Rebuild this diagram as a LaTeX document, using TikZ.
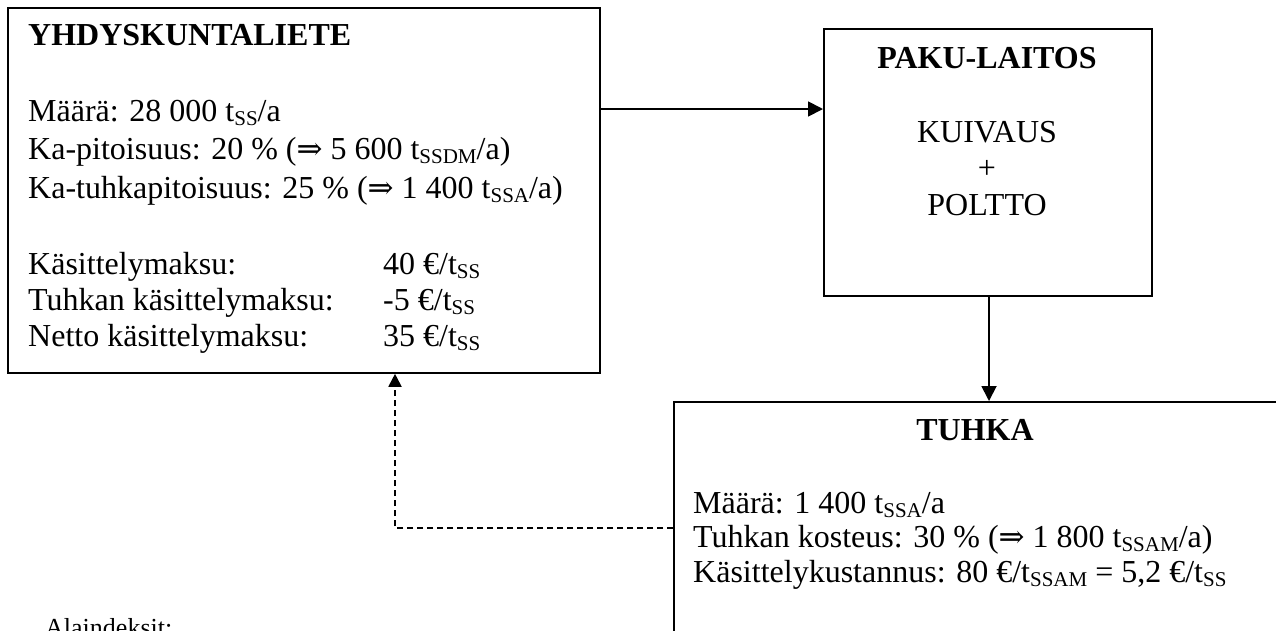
\documentclass[tikz,border=0pt]{standalone}
\usepackage{fontspec}
\setmainfont{Liberation Serif}
\newfontfamily\arrowfont{DejaVu Serif}
\usetikzlibrary{arrows.meta}
\newcommand\sbs[1]{\raisebox{-4pt}{\fontsize{21}{21}\selectfont #1}}
\newcommand\impl{{\arrowfont\fontsize{31}{31}\selectfont ⇒}}
\begin{document}
\begin{tikzpicture}[x=1pt,y=-1pt,
  box/.style={draw, line width=1.8pt, inner sep=0pt, anchor=north west},
  txt/.style={anchor=base west, inner sep=0pt, font=\fontsize{32}{37}\selectfont},
  ctxt/.style={anchor=base, inner sep=0pt, font=\fontsize{32}{37}\selectfont},
  ttl/.style={inner sep=0pt, font=\bfseries\fontsize{32}{37}\selectfont},
  arr/.style={line width=1.8pt, -{Triangle[length=15pt,width=15pt]}},
  darr/.style={line width=1.8pt, -{Triangle[length=13pt,width=13pt]}, dash pattern=on 6pt off 4pt}]
\useasboundingbox (0,0) rectangle (1276,630);
\clip (0,0) rectangle (1276,630);
% boxes
\node[box, minimum width=592pt, minimum height=365pt] (liete) at (7,7) {};
\node[box, minimum width=328pt, minimum height=267pt] (paku) at (823,28) {};
\node[box, minimum width=610pt, minimum height=400pt] (tuhka) at (673,401) {};
% box 1 texts
\node[ttl, anchor=base west] (t1) at (28,45) {YHDYSKUNTALIETE};
\node[txt] (l1) at (28,121) {Määrä: 28 000 t\sbs{SS}/a};
\node[txt] (l2) at (28,159) {Ka-pitoisuus: 20 \% (\impl{} 5 600 t\sbs{SSDM}/a)};
\node[txt] (l3) at (28,198) {Ka-tuhkapitoisuus: 25 \% (\impl{} 1 400 t\sbs{SSA}/a)};
\node[txt] (l4) at (28,274) {Käsittelymaksu:};
\node[txt] (l5) at (28,310) {Tuhkan käsittelymaksu:};
\node[txt] (l6) at (28,346) {Netto käsittelymaksu:};
\node[txt] (v4) at (383,274) {40 €/t\sbs{SS}};
\node[txt] (v5) at (383,310) {-5 €/t\sbs{SS}};
\node[txt] (v6) at (383,346) {35 €/t\sbs{SS}};
% box 2 texts
\node[ttl, anchor=base] (t2) at (987,68) {PAKU-LAITOS};
\node[ctxt] (p1) at (987,142) {KUIVAUS};
\node[ctxt] (p2) at (987,178.5) {+};
\node[ctxt] (p3) at (987,215) {POLTTO};
% box 3 texts
\node[ttl, anchor=base] (t3) at (975,440) {TUHKA};
\node[txt] (m1) at (693,513) {Määrä: 1 400 t\sbs{SSA}/a};
\node[txt] (m2) at (693,547.5) {Tuhkan kosteus: 30 \% (\impl{} 1 800 t\sbs{SSAM}/a)};
\node[txt] (m3) at (693,582) {Käsittelykustannus: 80 €/t\sbs{SSAM} = 5,2 €/t\sbs{SS}};
% footer
\node[anchor=base west, inner sep=0pt, font=\fontsize{26}{30}\selectfont] (ala) at (45,636) {Alaindeksit:};
% connectors
\draw[arr] (liete.east |- 0,109) -- (paku.west |- 0,109);
\draw[arr] (paku.south -| 989,0) -- (tuhka.north -| 989,0);
\coordinate (corner) at (395,528);
\draw[darr] (tuhka.west |- corner) -- (corner) -- (liete.south -| corner);
\end{tikzpicture}
\end{document}
